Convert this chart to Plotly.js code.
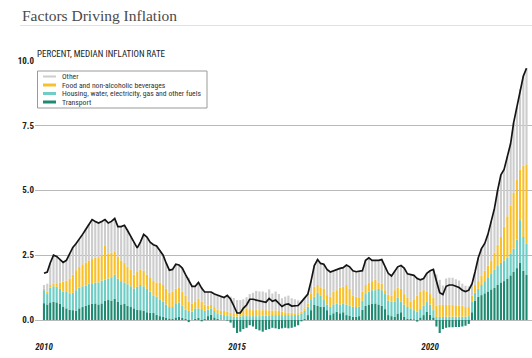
<!DOCTYPE html>
<html>
<head>
<meta charset="utf-8">
<script src="https://cdn.plot.ly/plotly-3.0.1.min.js"></script>
<style>html,body{margin:0;padding:0;background:#fff;}#chart{width:532px;height:358px;}</style>
</head>
<body>
<div id="chart"></div>
<script>
// ---- DATA (monthly, Jan 2010 - Jul 2022) ----
const startYear = 2010;
const seriesNames = ["Other", "Food and non-alcoholic beverages", "Housing, water, electricity, gas and other fuels", "Transport"];
const transport = [
0.65,0.6,0.68,0.7,0.68,0.62,0.52,0.45,0.4,0.38,
0.36,0.45,0.5,0.55,0.6,0.62,0.64,0.6,0.64,0.75,
0.77,0.75,0.82,0.7,0.6,0.62,0.55,0.5,0.45,0.4,
0.38,0.36,0.3,0.28,0.27,0.2,0.15,0.12,0.08,0.06,
0.05,0.1,0.12,0.08,0.05,-0.08,0.02,0.05,0.08,-0.05,
0.05,0.15,0.2,0.1,0.05,0.02,0,-0.02,-0.1,-0.3,
-0.5,-0.45,-0.35,-0.3,-0.2,-0.25,-0.35,-0.4,-0.45,-0.38,
-0.35,-0.3,-0.32,-0.35,-0.32,-0.3,-0.32,-0.3,-0.26,-0.2,
-0.05,0.05,0.19,0.38,0.58,0.54,0.51,0.5,0.38,0.19,
0.26,0.32,0.26,0.3,0.19,0.17,0.13,0.12,0.15,0.4,
0.55,0.6,0.62,0.64,0.6,0.55,0.42,0.19,0.15,0.12,
0.25,0.3,0.12,0.05,0.04,0.03,-0.06,0.1,0.19,0.32,
0.2,0.1,-0.25,-0.5,-0.35,-0.3,-0.28,-0.28,-0.27,-0.27,
-0.25,-0.22,-0.15,0.3,0.75,0.9,0.96,1.03,1.1,1.18,
1.25,1.35,1.45,1.5,1.6,1.72,1.85,2.0,2.2,1.9,1.75];
const housing = [
0.5,0.4,0.57,0.6,0.6,0.58,0.58,0.63,0.63,0.67,
0.79,0.8,0.8,0.78,0.8,0.8,0.8,0.85,0.88,0.8,
0.83,0.9,0.93,0.9,0.9,0.83,0.83,0.8,0.77,0.88,
0.97,0.94,0.9,0.82,0.68,0.7,0.65,0.58,0.52,0.44,
0.45,0.55,0.56,0.47,0.35,0.35,0.3,0.4,0.37,0.42,
0.3,0.25,0.25,0.25,0.21,0.2,0.19,0.18,0.15,0.13,
0.13,0.14,0.15,0.15,0.15,0.15,0.15,0.15,0.16,0.17,
0.18,0.19,0.19,0.19,0.19,0.19,0.19,0.19,0.19,0.2,
0.26,0.3,0.32,0.39,0.32,0.51,0.44,0.27,0.22,0.32,
0.34,0.32,0.34,0.32,0.41,0.38,0.38,0.38,0.37,0.35,
0.45,0.5,0.53,0.51,0.6,0.6,0.58,0.56,0.55,0.6,
0.6,0.4,0.48,0.45,0.41,0.35,0.32,0.32,0.36,0.38,
0.4,0.28,0.12,0.12,0.12,0.13,0.13,0.13,0.13,0.13,
0.13,0.13,0.15,0.4,0.3,0.3,0.39,0.47,0.55,0.62,
0.7,0.73,0.75,0.8,0.8,0.83,0.9,1.1,1.65,1.3,1.2];
const food = [
0.05,0.1,0.1,0.1,0.14,0.25,0.38,0.44,0.57,0.7,
0.77,0.8,0.85,0.89,0.9,0.93,0.96,0.97,0.96,1.33,
0.95,0.95,0.9,0.85,0.8,0.75,0.67,0.65,0.53,0.57,
0.6,0.6,0.55,0.55,0.55,0.55,0.65,0.65,0.6,0.55,
0.6,0.55,0.58,0.55,0.55,0.35,0.32,0.25,0.38,0.28,
0.25,0.15,0.13,0.15,0.14,0.14,0.16,0.14,0.13,0.13,
0.17,0.21,0.3,0.3,0.27,0.23,0.25,0.23,0.22,0.21,
0.19,0.18,0.18,0.16,0.13,0.11,0.09,0.09,0.07,0.07,
0.06,0.1,0.13,0.26,0.38,0.3,0.31,0.45,0.36,0.39,
0.49,0.51,0.65,0.66,0.75,0.65,0.44,0.4,0.33,0.35,
0.35,0.35,0.35,0.4,0.25,0.25,0.15,0.23,0.23,0.43,
0.4,0.5,0.4,0.35,0.27,0.42,0.63,0.68,0.6,0.4,
0.4,0.47,0.43,0.48,0.46,0.45,0.47,0.45,0.44,0.42,
0.42,0.37,0.35,0.25,0.3,0.3,0.35,0.4,0.45,0.5,
0.65,0.82,1.0,1.3,1.6,1.85,2.15,2.3,1.95,2.75,3.05];
const other = [
0.15,0.3,0.85,1.1,1.03,0.9,0.74,0.78,0.95,1.05,
1.03,1.05,1.15,1.28,1.4,1.52,1.4,1.32,1.32,0.99,
1.19,1.2,1.26,1.15,1.3,1.45,1.4,1.25,1.25,0.93,
1.05,1.4,1.45,1.35,1.4,1.4,1.2,1.15,1.0,0.87,
0.85,0.95,0.86,0.9,0.8,0.93,0.66,0.6,0.62,0.57,
0.48,0.53,0.5,0.5,0.56,0.54,0.52,0.63,0.62,0.59,
0.47,0.42,0.35,0.43,0.58,0.67,0.72,0.72,0.72,0.68,
0.81,0.65,0.73,0.65,0.52,0.6,0.66,0.56,0.54,0.49,
0.43,0.4,0.36,0.47,0.82,0.98,0.92,0.93,0.99,0.95,
0.81,0.8,0.74,0.74,0.77,0.85,0.95,0.96,1.02,0.8,
0.95,0.95,0.8,0.75,0.85,0.93,0.9,0.82,0.77,0.75,
0.8,0.9,1.0,0.93,1.03,0.92,0.71,0.45,0.45,0.7,
0.9,1.1,1.2,0.95,0.75,1.02,1.03,1.05,1.0,0.97,
0.85,0.82,0.8,0.45,0.5,0.9,1.05,1.05,1.2,1.5,
1.7,2.1,2.4,2.2,2.3,2.4,2.7,2.8,3.1,3.45,3.7];
const median = [
1.8,1.85,2.2,2.5,2.45,2.35,2.22,2.3,2.55,2.8,
2.95,3.1,3.3,3.5,3.7,3.87,3.8,3.74,3.8,3.87,
3.74,3.8,3.91,3.6,3.6,3.65,3.45,3.2,3.0,2.78,
3.0,3.3,3.2,3.0,2.9,2.85,2.65,2.5,2.2,1.92,
1.95,2.15,2.12,2.0,1.75,1.55,1.3,1.3,1.45,1.22,
1.08,1.08,1.08,1.0,0.96,0.9,0.87,0.95,0.8,0.55,
0.27,0.27,0.45,0.58,0.8,0.8,0.77,0.72,0.7,0.68,
0.83,0.72,0.77,0.65,0.52,0.6,0.62,0.54,0.54,0.56,
0.7,0.85,1.0,1.5,2.1,2.33,2.18,2.15,1.95,1.85,
1.9,1.95,1.99,2.02,2.12,2.05,1.9,1.86,1.87,1.9,
2.3,2.4,2.3,2.3,2.3,2.33,2.05,1.8,1.7,1.9,
2.05,2.1,2.0,1.78,1.75,1.72,1.6,1.55,1.6,1.8,
1.9,1.95,1.5,1.05,0.98,1.3,1.35,1.35,1.3,1.25,
1.15,1.1,1.15,1.4,1.85,2.4,2.75,2.95,3.3,3.8,
4.3,5.0,5.6,5.8,6.3,6.8,7.6,8.2,8.9,9.4,9.7];
const xTickVals = ["2010-01-01", "2015-01-01", "2020-01-01"];
const xTickText = ["2010", "2015", "2020"];
const yTickVals = [0, 2.5, 5, 7.5, 10];
const yTickText = ["0.0", "2.5", "5.0", "7.5", "10.0"];

// ---- build ----
const months = [];
for (let i = 0; i < median.length; i++) {
  const y = startYear + Math.floor(i / 12), m = (i % 12) + 1;
  months.push(y + "-" + String(m).padStart(2, "0") + "-01");
}
const colors = { other: "#cdcdcd", food: "#f8c12c", housing: "#6ecdc5", transport: "#1e8a72" };
const cond = "'Roboto Condensed', 'Liberation Sans Narrow', 'Arial Narrow', Roboto, sans-serif";

const W = 532, H = 358, mL = 35, mR = 0, mT = 60, mB = 18;
const pw = W - mL - mR, ph = H - mT - mB;
const px = x => (x - mL) / pw;
const py = y => (H - mB - y) / ph;

function barTrace(vals, color, name) {
  return { type: "bar", x: months, y: vals, name: name, marker: { color: color, line: { width: 0 } }, showlegend: false, hoverinfo: "skip" };
}
const traces = [
  barTrace(transport, colors.transport, seriesNames[3]),
  barTrace(housing, colors.housing, seriesNames[2]),
  barTrace(food, colors.food, seriesNames[1]),
  barTrace(other, colors.other, seriesNames[0]),
  { type: "scatter", mode: "lines", x: months, y: median, line: { color: "#151515", width: 1.7 }, showlegend: false, hoverinfo: "skip" }
];

// custom legend
const legColors = [colors.other, colors.food, colors.housing, colors.transport];
const legRowsY = [76.5, 85, 93.5, 102];
const shapes = [
  { type: "line", xref: "paper", yref: "paper", x0: px(20), x1: px(532), y0: py(25.5), y1: py(25.5), line: { color: "#e2e2e2", width: 1 } },
  { type: "rect", xref: "paper", yref: "paper", x0: px(37.5), x1: px(207), y0: py(108), y1: py(71), fillcolor: "#ffffff", line: { color: "#9a9a9a", width: 1 }, layer: "above" }
];
const annotations = [
  { xref: "paper", yref: "paper", x: px(35), y: py(54), xanchor: "left", yanchor: "middle", showarrow: false,
    text: "PERCENT, MEDIAN INFLATION RATE", font: { family: cond, size: 9, color: "#222" } }
];
seriesNames.forEach((nm, i) => {
  shapes.push({ type: "line", xref: "paper", yref: "paper", x0: px(43), x1: px(56), y0: py(legRowsY[i]), y1: py(legRowsY[i]),
    line: { color: legColors[i], width: i === 0 ? 2 : 3 }, layer: "above" });
  annotations.push({ xref: "paper", yref: "paper", x: px(60), y: py(legRowsY[i]), xanchor: "left", yanchor: "middle", showarrow: false,
    text: nm, font: { family: cond, size: 7.7, color: "#333" } });
});

const layout = {
  width: W, height: H,
  margin: { l: mL, r: mR, t: mT, b: mB, pad: 0 },
  paper_bgcolor: "#ffffff", plot_bgcolor: "#ffffff",
  barmode: "relative", bargap: 0.28,
  showlegend: false,
  title: { text: "Factors Driving Inflation", x: 22 / W, xref: "container", xanchor: "left", y: 1 - 16 / H, yref: "container", yanchor: "middle",
    font: { family: "'Liberation Serif', 'DejaVu Serif', serif", size: 15.5, color: "#4a4a4a" } },
  xaxis: { type: "date", range: ["2009-10-08", "2022-08-22"], tickvals: xTickVals, ticktext: xTickText, showgrid: false, zeroline: false,
    showline: false, ticks: "", tickfont: { family: cond, size: 9, color: "#222", weight: "bold", style: "italic" } },
  yaxis: { range: [-0.77, 10.02], tickvals: yTickVals, ticktext: yTickText, showgrid: true, gridcolor: "#b9b9b9", gridwidth: 1, zeroline: false,
    showline: false, ticks: "", tickfont: { family: cond, size: 9, color: "#222", weight: "bold" } },
  shapes: shapes, annotations: annotations
};
Plotly.newPlot("chart", traces, layout, { staticPlot: true, displayModeBar: false });
</script>
</body>
</html>
